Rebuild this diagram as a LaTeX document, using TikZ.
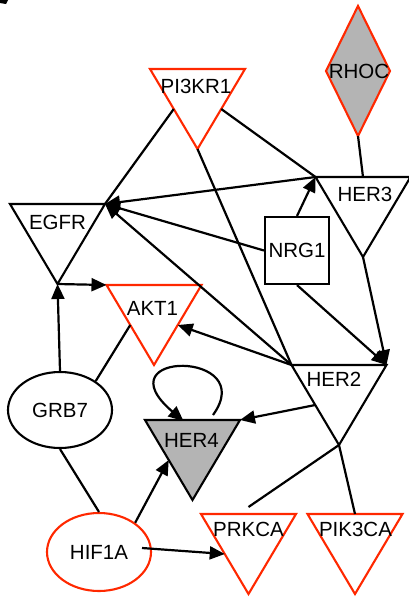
\documentclass[tikz,border=0pt]{standalone}
\usepackage{fontspec}
\setmainfont{Liberation Sans}
\usetikzlibrary{arrows.meta,calc,shapes.geometric}
\definecolor{nred}{RGB}{255,40,0}
\definecolor{ngray}{RGB}{180,180,180}
\tikzset{
  shapeline/.style={line width=2.1pt, line join=miter},
  lbl/.style={font=\fontsize{20.5}{24}\selectfont, inner sep=0pt},
  edge/.style={line width=2.2pt},
  arr/.style={line width=2.2pt, -{Triangle[length=15pt,width=13pt]}},
}
% name, cx, top, draw colour, fill colour, label shift, text
\newcommand\mytri[7]{%
  \coordinate (#1-l) at (#2-47.5,#3);
  \coordinate (#1-r) at (#2+47.5,#3);
  \coordinate (#1-b) at (#2,#3+80);
  \coordinate (#1-t) at (#2,#3);
  \coordinate (#1-lm) at (#2-23.75,#3+40);
  \coordinate (#1-rm) at (#2+23.75,#3+40);
  \filldraw[shapeline, draw=#4, fill=#5] (#1-l) -- (#1-r) -- (#1-b) -- cycle;
  \node[lbl] (#1) at ($(#2,#3)+(#6)$) {#7};
}
\begin{document}
\begin{tikzpicture}[x=1pt,y=-1pt]
\useasboundingbox (0,0) rectangle (409,603);
\fill (0,0) -- (8,0) -- (6,4) -- (0,3) -- cycle;
% nodes
\mytri{pi3kr1}{197.5}{69}{nred}{white}{-1.5,17.5}{PI3KR1}
\mytri{her3}{363}{177}{black}{white}{2,17.5}{HER3}
\mytri{egfr}{57.5}{204}{black}{white}{0,18}{EGFR}
\mytri{akt1}{154}{285}{nred}{white}{-1.5,23}{AKT1}
\mytri{her2}{339}{365}{black}{white}{-5,14}{HER2}
\mytri{her4}{192.5}{420}{black}{ngray}{-1,20}{HER4}
\mytri{prkca}{248.5}{514}{nred}{white}{0,15}{PRKCA}
\mytri{pik3ca}{355}{514}{nred}{white}{0.5,15}{PIK3CA}
\coordinate (rhoc-t) at (358,6);
\coordinate (rhoc-b) at (358,136);
\filldraw[shapeline, draw=nred, fill=ngray] (rhoc-t) -- (390,71) -- (rhoc-b) -- (326,71) -- cycle;
\node[lbl] (rhoc) at (359,71) {RHOC};
\node[lbl, draw, line width=2.1pt, minimum width=64pt, minimum height=67pt] (nrg1) at (297,250.5) {NRG1};
\node[lbl, draw, ellipse, line width=2.1pt, minimum width=104pt, minimum height=76pt] (grb7) at (60,410) {GRB7};
\node[lbl, draw=nred, ellipse, line width=2.1pt, minimum width=104pt, minimum height=78pt] (hif1a) at (99,552) {HIF1A};
% connectors
\draw[edge] (pi3kr1-lm) -- (egfr-r);
\draw[edge] (pi3kr1-rm) -- (her3-l);
\draw[edge] (pi3kr1-b) -- (her2-l);
\draw[edge] (rhoc-b) -- (her3-t);
\draw[arr] (her3-l) -- (egfr-r);
\draw[arr] (nrg1.north) -- (her3-l);
\draw[arr] (nrg1.west) -- (egfr-r);
\draw[arr] (nrg1.south) -- (her2-r);
\draw[arr] (her3-b) -- (her2-r);
\draw[arr] (her2-l) -- (egfr-r);
\draw[arr] (her2-l) -- (akt1-rm);
\draw[arr] (egfr-b) -- (akt1-l);
\draw[arr] (grb7.north) -- (egfr-b);
\draw[edge] (grb7.39) -- (akt1-lm);
\draw[edge] (grb7.south) -- (hif1a.north);
\draw[arr] (hif1a.39) -- (her4-lm);
\draw[arr] ($(hif1a.center)+(43,-4)$) -- (prkca-lm);
\draw[arr] (her2-lm) -- (her4-r);
\draw[edge] (her2-b) -- ($(prkca-t)+(0,-7)$);
\draw[edge] (her2-b) -- (pik3ca-t);
\coordinate (loopstart) at (213,415);
\draw[arr] (loopstart) .. controls (260,350) and (100,350) .. ($(her4-t)+(-9,1)$);
\end{tikzpicture}
\end{document}
